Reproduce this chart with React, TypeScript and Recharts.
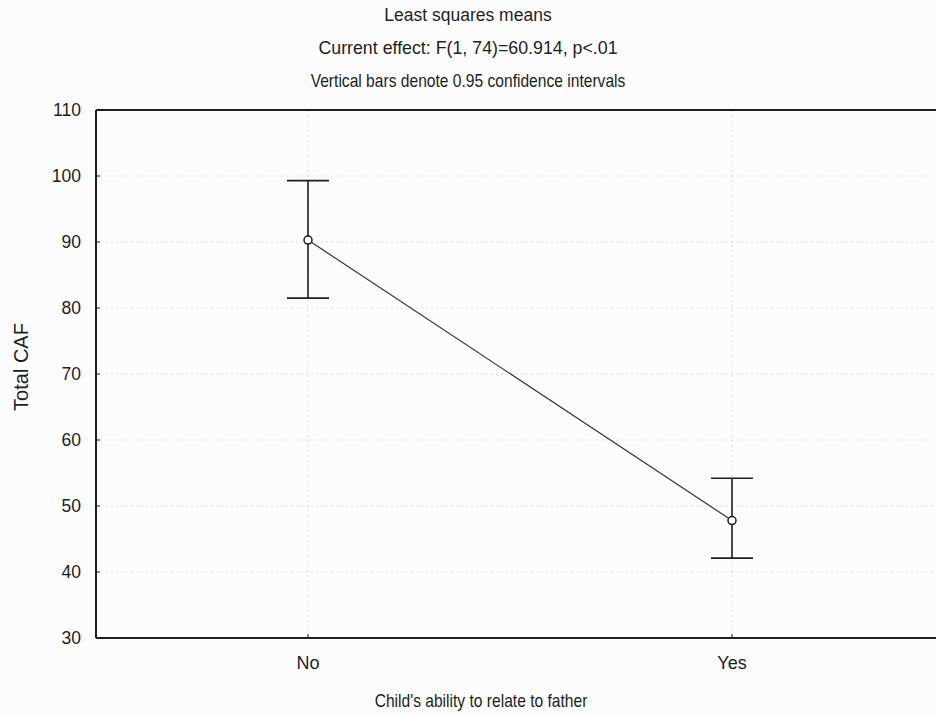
import {
  LineChart,
  Line,
  XAxis,
  YAxis,
  CartesianGrid,
  ErrorBar,
} from "recharts";

// least squares means of Total CAF with 0.95 confidence limits
const categories = ["No", "Yes"];
const means = [90.3, 47.8];
const lowerCI = [81.5, 42.1];
const upperCI = [99.3, 54.2];
const yTicks = [30, 40, 50, 60, 70, 80, 90, 100, 110];

const titleLines = [
  "Least squares means",
  "Current effect: F(1, 74)=60.914, p<.01",
  "Vertical bars denote 0.95 confidence intervals",
];
const titleSizes = [17.5, 17.8, 15.6];
const titleStretch = [1, 1, 1.18];
const xTitle = "Child's ability to relate to father";

const data = categories.map((name, i) => ({
  name,
  mean: means[i],
  ci: [means[i] - lowerCI[i], upperCI[i] - means[i]],
}));

const font = "'Liberation Sans', Arial, sans-serif";
const ink = "#1e1e1e";
const catPad = { left: 212, right: 212 };

const App = () => {
  return (
    <div
      style={{
        position: "fixed",
        left: 0,
        top: 0,
        width: 936,
        height: 714,
        overflow: "hidden",
        background: "#fcfcfc",
        fontFamily: font,
      }}
    >
      {titleLines.map((t, i) => (
        <div
          key={t}
          style={{
            position: "absolute",
            left: 0,
            width: 936,
            top: 5 + i * 33,
            textAlign: "center",
            fontSize: titleSizes[i],
            color: ink,
            lineHeight: "20px",
            transform: `scaleY(${titleStretch[i]})`,
          }}
        >
          {t}
        </div>
      ))}
      <div
        style={{
          position: "absolute",
          left: 281,
          width: 400,
          top: 691,
          textAlign: "center",
          fontSize: 15.6,
          color: ink,
          lineHeight: "20px",
          transform: "scaleY(1.18)",
        }}
      >
        {xTitle}
      </div>
      <LineChart
        width={960}
        height={714}
        data={data}
        margin={{ top: 100, right: 16, bottom: 36, left: 36 }}
        style={{ position: "absolute", left: 0, top: 0 }}
      >
        <CartesianGrid stroke="#dcdcdc" strokeDasharray="2 3" xAxisId="bottom" />
        <XAxis
          dataKey="name"
          xAxisId="bottom"
          orientation="bottom"
          height={40}
          padding={catPad}
          axisLine={{ stroke: ink, strokeWidth: 2 }}
          tickLine={{ stroke: ink }}
          tickSize={-4}
          tickMargin={22}
          tick={{ fill: ink, fontSize: 18, fontFamily: font }}
        />
        <XAxis
          dataKey="name"
          xAxisId="top"
          orientation="top"
          height={10}
          padding={catPad}
          axisLine={{ stroke: ink, strokeWidth: 2 }}
          tickLine={{ stroke: ink }}
          tickSize={-4}
          tick={false}
        />
        <YAxis
          width={60}
          domain={[30, 110]}
          ticks={yTicks}
          allowDataOverflow
          axisLine={{ stroke: ink, strokeWidth: 2 }}
          tickLine={{ stroke: ink }}
          tickSize={-4}
          tickMargin={19}
          tick={{ fill: ink, fontSize: 17.5, fontFamily: font }}
          label={{
            value: "Total CAF",
            angle: -90,
            position: "center",
            dx: -45,
            dy: -7,
            fill: ink,
            fontSize: 20,
            fontFamily: font,
          }}
        />
        <YAxis
          yAxisId="right"
          orientation="right"
          width={0}
          domain={[30, 110]}
          axisLine={{ stroke: ink, strokeWidth: 2 }}
          tick={false}
          tickLine={false}
        />
        <Line
          xAxisId="bottom"
          dataKey="mean"
          stroke="#333"
          strokeWidth={1.2}
          dot={{ r: 4, fill: "#fff", stroke: ink, strokeWidth: 1.5 }}
          activeDot={false}
          isAnimationActive={false}
        >
          <ErrorBar
            dataKey="ci"
            direction="y"
            width={21}
            stroke={ink}
            strokeWidth={1.6}
            isAnimationActive={false}
          />
        </Line>
      </LineChart>
    </div>
  );
};

export default App;
